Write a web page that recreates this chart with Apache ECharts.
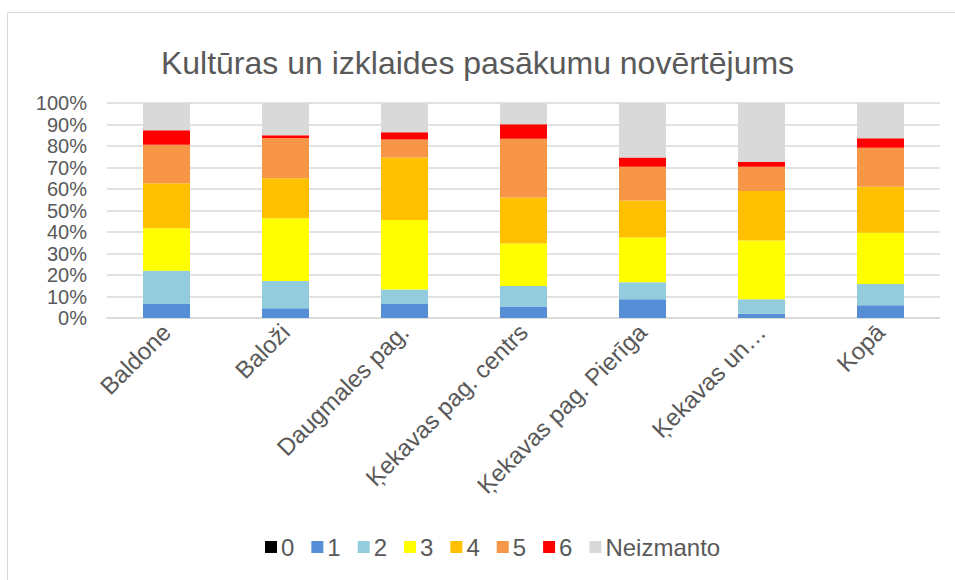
<!DOCTYPE html>
<html>
<head>
<meta charset="utf-8">
<script src="https://cdn.jsdelivr.net/npm/echarts@6/dist/echarts.min.js"></script>
<style>
  html, body { margin: 0; padding: 0; background: #fff; }
  #chart { width: 955px; height: 580px; }
</style>
</head>
<body>
<div id="chart"></div>
<script>
var categories = ['Baldone', 'Baloži', 'Daugmales pag.', 'Ķekavas pag. centrs', 'Ķekavas pag. Pierīga', 'Ķekavas un…', 'Kopā'];
var seriesNames = ['0', '1', '2', '3', '4', '5', '6', 'Neizmanto'];
var colors = ['#000000', '#558ED5', '#93CDDD', '#FFFF00', '#FFC000', '#F79646', '#FF0000', '#D9D9D9'];
// shares in percent, per category
var v0 = [0, 0, 0, 0, 0, 0, 0];
var v1 = [6.5, 4.5, 6.5, 5.4, 8.7, 2.0, 5.9];
var v2 = [15.5, 12.7, 6.8, 9.5, 7.9, 6.7, 9.9];
var v3 = [19.7, 29.2, 32.3, 19.8, 20.9, 27.4, 23.8];
var v4 = [21.0, 18.6, 29.0, 21.4, 17.1, 23.0, 21.4];
var v5 = [17.9, 18.7, 8.4, 27.3, 15.8, 11.3, 18.2];
var v6 = [6.7, 1.3, 3.4, 6.7, 4.3, 2.3, 4.4];
var vN = [12.7, 15.0, 13.6, 9.9, 25.3, 27.3, 16.3];
var values = [v0, v1, v2, v3, v4, v5, v6, vN];
var yTicks = [0, 10, 20, 30, 40, 50, 60, 70, 80, 90, 100];

var grey = '#595959';
var rule = '#D9D9D9';
var font = 'Liberation Sans, Arial, sans-serif';

var chart = echarts.init(document.getElementById('chart'), null, { renderer: 'svg' });
chart.setOption({
  animation: false,
  color: colors,
  title: {
    text: 'Kultūras un izklaides pasākumu novērtējums',
    left: 'center',
    top: 42,
    textStyle: { color: grey, fontSize: 32, fontWeight: 'normal', fontFamily: font }
  },
  graphic: [{
    type: 'rect',
    shape: { x: 7.5, y: 12.5, width: 1000, height: 1000 },
    style: { fill: 'none', stroke: rule, lineWidth: 1 },
    silent: true
  }],
  legend: {
    data: seriesNames,
    bottom: 16,
    left: 260,
    icon: 'rect',
    itemWidth: 12,
    itemHeight: 12,
    itemGap: 17,
    textStyle: { color: grey, fontSize: 24, fontFamily: font, padding: [0, 0, 0, -1] }
  },
  grid: { left: 107, right: 15, top: 103, bottom: 262, containLabel: false },
  xAxis: {
    type: 'category',
    data: categories,
    axisLine: { lineStyle: { color: rule, width: 1.5 } },
    axisTick: { show: false },
    axisLabel: { color: grey, fontSize: 24, fontFamily: font, rotate: 45, margin: 10, interval: 0 }
  },
  yAxis: {
    type: 'value',
    min: yTicks[0],
    max: yTicks[yTicks.length - 1],
    interval: 10,
    axisLine: { show: false },
    axisTick: { show: false },
    splitLine: { lineStyle: { color: rule, width: 1.5 } },
    axisLabel: {
      color: grey, fontSize: 20, fontFamily: font, margin: 20,
      formatter: '{value}%', showMinLabel: true, showMaxLabel: true
    }
  },
  series: seriesNames.map(function(name, i) {
    return {
      name: name,
      type: 'bar',
      stack: 'total',
      barWidth: 47,
      data: values[i],
      itemStyle: { color: colors[i] }
    };
  })
});
</script>
</body>
</html>
